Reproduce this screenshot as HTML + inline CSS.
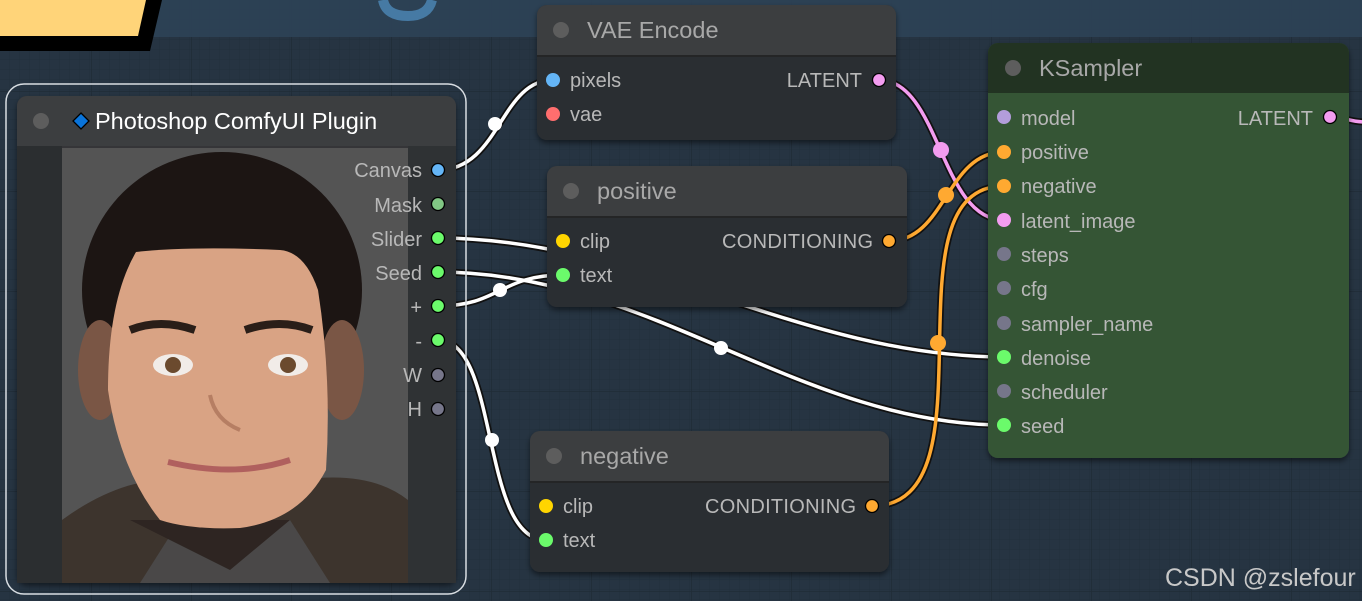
<!DOCTYPE html>
<html><head><meta charset="utf-8"><style>
html,body{margin:0;padding:0;width:1362px;height:601px;overflow:hidden;background:#253340}
svg{display:block}
text{font-family:"Liberation Sans",Arial,sans-serif}
</style></head><body>
<svg width="1362" height="601" viewBox="0 0 1362 601" xmlns="http://www.w3.org/2000/svg">
<defs>
<pattern id="g" width="10" height="10" patternUnits="userSpaceOnUse">
<path d="M10 0V10H0" fill="none" stroke="#21303c" stroke-width="1"/>
</pattern>
<pattern id="G" width="100" height="100" patternUnits="userSpaceOnUse" x="-8" y="-8">
<path d="M100 0V100H0" fill="none" stroke="#1f2b36" stroke-width="1.5"/>
</pattern>
<filter id="sh" x="-10%" y="-10%" width="120%" height="130%"><feDropShadow dx="0" dy="3" stdDeviation="3" flood-color="#000" flood-opacity="0.5"/></filter>
<clipPath id="img"><rect x="62" y="148" width="346" height="435"/></clipPath>
</defs>
<rect width="1362" height="601" fill="#263442"/>
<rect width="1362" height="601" fill="url(#g)"/>
<rect width="1362" height="601" fill="url(#G)"/>
<rect width="1362" height="37" fill="#2d4257" opacity="0.9"/>
<polygon points="0,0 162,0 150,51 0,51" fill="#000"/>
<polygon points="0,0 146,0 138,36 0,36" fill="#ffd479"/>
<path d="M383,0 Q386,16 408,16 Q428,16 432,0" fill="none" stroke="#467aa4" stroke-width="10"/>

<g fill="none" stroke-linecap="round">
<g stroke="#111" stroke-width="7">
<path d="M438,170 C500,170 500,80 553,80"/>
<path d="M438,238 C640,238 800,357 1004,357"/>
<path d="M438,272 C650,272 800,425 1004,425"/>
<path d="M438,306 C500,306 500,275 563,275"/>
<path d="M438,340 C500,340 480,540 546,540"/>
<path d="M879,80 C940,80 940,220 1004,220"/>
<path d="M889,241 C946,241 946,152 1004,152"/>
<path d="M872,506 C1000,506 880,186 1004,186"/>
<path d="M1330,117 C1345,117 1350,122 1365,122"/>
</g>
<g stroke="#fff" stroke-width="3.5">
<path d="M438,170 C500,170 500,80 553,80"/>
<path d="M438,238 C640,238 800,357 1004,357"/>
<path d="M438,272 C650,272 800,425 1004,425"/>
<path d="M438,306 C500,306 500,275 563,275"/>
<path d="M438,340 C500,340 480,540 546,540"/>
</g>
<path d="M879,80 C940,80 940,220 1004,220" stroke="#f39cf0" stroke-width="3.5"/>
<path d="M889,241 C946,241 946,152 1004,152" stroke="#ffa931" stroke-width="3.5"/>
<path d="M872,506 C1000,506 880,186 1004,186" stroke="#ffa931" stroke-width="3.5"/>
<path d="M1330,117 C1345,117 1350,122 1365,122" stroke="#f39cf0" stroke-width="3.5"/>
</g>
<g>
<circle cx="495" cy="124" r="7" fill="#fff"/>
<circle cx="500" cy="290" r="7" fill="#fff"/>
<circle cx="721" cy="348" r="7" fill="#fff"/>
<circle cx="492" cy="440" r="7" fill="#fff"/>
<circle cx="941" cy="150" r="8" fill="#f39cf0"/>
<circle cx="946" cy="195" r="8" fill="#ffa931"/>
<circle cx="938" cy="343" r="8" fill="#ffa931"/>
</g>

<rect x="6" y="84" width="460" height="510" rx="18" fill="none" stroke="#d8dde2" stroke-width="1.5"/>
<g filter="url(#sh)">
<rect x="17" y="96" width="439" height="487" rx="10" fill="#353637"/>
</g>
<path d="M17,106 a10,10 0 0 1 10,-10 h419 a10,10 0 0 1 10,10 v40 h-439z" fill="#3c3e40"/>
<rect x="17" y="146" width="45" height="437" fill="#2b2e30"/>
<rect x="408" y="146" width="48" height="437" fill="#2f3234"/>
<circle cx="41" cy="121" r="8" fill="#5d5d5d"/>
<polygon points="81,113 89,121 81,129 73,121" fill="#0a74da" stroke="#000" stroke-width="1.3"/>
<text x="95" y="129" font-size="23.5" fill="#fff">Photoshop ComfyUI Plugin</text>
<g clip-path="url(#img)">
<rect x="62" y="148" width="346" height="435" fill="#545454"/>
<path d="M62,520 Q130,470 200,480 L300,480 Q370,470 408,500 L408,583 L62,583z" fill="#3d342d"/>
<path d="M180,520 L290,520 L330,583 L140,583z" fill="#4a4848"/>
<path d="M130,520 L290,520 L230,570z" fill="#2e2522"/>
<ellipse cx="222" cy="290" rx="140" ry="138" fill="#1c1513"/>
<ellipse cx="100" cy="370" rx="22" ry="50" fill="#7a5645"/>
<ellipse cx="342" cy="370" rx="22" ry="50" fill="#7a5645"/>
<path d="M136,252 Q190,246 280,250 Q305,252 318,290 Q332,380 326,470 Q300,520 240,528 Q190,530 160,520 Q120,470 108,390 Q108,300 136,252z" fill="#d9a384"/>
<path d="M130,330 Q160,318 195,330" stroke="#2a1e18" stroke-width="8" fill="none"/>
<path d="M245,330 Q280,318 312,330" stroke="#2a1e18" stroke-width="8" fill="none"/>
<ellipse cx="173" cy="365" rx="20" ry="11" fill="#f1ece8"/>
<ellipse cx="288" cy="365" rx="20" ry="11" fill="#f1ece8"/>
<circle cx="173" cy="365" r="8" fill="#6b4a2e"/>
<circle cx="288" cy="365" r="8" fill="#6b4a2e"/>
<path d="M210,395 Q215,420 240,430" stroke="#b67e63" stroke-width="4" fill="none"/>
<path d="M168,462 Q235,478 290,460" stroke="#b0605e" stroke-width="6" fill="none"/>
</g>
<g font-size="20" fill="#b8b8b8" text-anchor="end">
<text x="422" y="177">Canvas</text>
<text x="422" y="212">Mask</text>
<text x="422" y="246">Slider</text>
<text x="422" y="280">Seed</text>
<text x="422" y="314">+</text>
<text x="422" y="348">-</text>
<text x="422" y="382">W</text>
<text x="422" y="416">H</text>
</g>
<g stroke="#000" stroke-width="1.3">
<circle cx="438" cy="170" r="6.5" fill="#64b5f6"/>
<circle cx="438" cy="204" r="6.5" fill="#81c784"/>
<circle cx="438" cy="238" r="6.5" fill="#6bfa6b"/>
<circle cx="438" cy="272" r="6.5" fill="#6bfa6b"/>
<circle cx="438" cy="306" r="6.5" fill="#6bfa6b"/>
<circle cx="438" cy="340" r="6.5" fill="#6bfa6b"/>
<circle cx="438" cy="375" r="6.5" fill="#76768a"/>
<circle cx="438" cy="409" r="6.5" fill="#76768a"/>
</g>

<g filter="url(#sh)"><rect x="537" y="5" width="359" height="135" rx="10" fill="#2b2e31"/></g>
<path d="M537,15 a10,10 0 0 1 10,-10 h339 a10,10 0 0 1 10,10 v40 h-359z" fill="#3c3e40"/>
<line x1="537" y1="56" x2="896" y2="56" stroke="#222" stroke-width="1.5"/>
<circle cx="561" cy="30" r="8" fill="#5d5d5d"/>
<text x="587" y="38" font-size="23.5" fill="#a8a8a8">VAE Encode</text>
<circle cx="553" cy="80" r="7" fill="#64b5f6"/>
<circle cx="553" cy="114" r="7" fill="#ff6e6e"/>
<text x="570" y="87" font-size="20" fill="#b8b8b8">pixels</text>
<text x="570" y="121" font-size="20" fill="#b8b8b8">vae</text>
<text x="862" y="87" font-size="20" fill="#b8b8b8" text-anchor="end">LATENT</text>
<circle cx="879" cy="80" r="6.5" fill="#f39cf0" stroke="#000" stroke-width="1.3"/>

<g filter="url(#sh)"><rect x="547" y="166" width="360" height="141" rx="10" fill="#2b2e31"/></g>
<path d="M547,176 a10,10 0 0 1 10,-10 h340 a10,10 0 0 1 10,10 v40 h-360z" fill="#3c3e40"/>
<line x1="547" y1="217" x2="907" y2="217" stroke="#222" stroke-width="1.5"/>
<circle cx="571" cy="191" r="8" fill="#5d5d5d"/>
<text x="597" y="199" font-size="23.5" fill="#a8a8a8">positive</text>
<circle cx="563" cy="241" r="7" fill="#ffd500"/>
<circle cx="563" cy="275" r="7" fill="#6bfa6b"/>
<text x="580" y="248" font-size="20" fill="#b8b8b8">clip</text>
<text x="580" y="282" font-size="20" fill="#b8b8b8">text</text>
<text x="873" y="248" font-size="20" fill="#b8b8b8" text-anchor="end" textLength="151">CONDITIONING</text>
<circle cx="889" cy="241" r="6.5" fill="#ffa931" stroke="#000" stroke-width="1.3"/>

<g filter="url(#sh)"><rect x="530" y="431" width="359" height="141" rx="10" fill="#2b2e31"/></g>
<path d="M530,441 a10,10 0 0 1 10,-10 h339 a10,10 0 0 1 10,10 v40 h-359z" fill="#3c3e40"/>
<line x1="530" y1="482" x2="889" y2="482" stroke="#222" stroke-width="1.5"/>
<circle cx="554" cy="456" r="8" fill="#5d5d5d"/>
<text x="580" y="464" font-size="23.5" fill="#a8a8a8">negative</text>
<circle cx="546" cy="506" r="7" fill="#ffd500"/>
<circle cx="546" cy="540" r="7" fill="#6bfa6b"/>
<text x="563" y="513" font-size="20" fill="#b8b8b8">clip</text>
<text x="563" y="547" font-size="20" fill="#b8b8b8">text</text>
<text x="856" y="513" font-size="20" fill="#b8b8b8" text-anchor="end" textLength="151">CONDITIONING</text>
<circle cx="872" cy="506" r="6.5" fill="#ffa931" stroke="#000" stroke-width="1.3"/>

<g filter="url(#sh)"><rect x="988" y="43" width="361" height="415" rx="10" fill="#355535"/></g>
<path d="M988,53 a10,10 0 0 1 10,-10 h341 a10,10 0 0 1 10,10 v40 h-361z" fill="#223322"/>
<circle cx="1013" cy="68" r="8" fill="#5d5d5d"/>
<text x="1039" y="76" font-size="23.5" fill="#a8a8a8">KSampler</text>
<g font-size="20" fill="#b8b8b8">
<text x="1021" y="125">model</text>
<text x="1021" y="159">positive</text>
<text x="1021" y="193">negative</text>
<text x="1021" y="228">latent_image</text>
<text x="1021" y="262">steps</text>
<text x="1021" y="296">cfg</text>
<text x="1021" y="331">sampler_name</text>
<text x="1021" y="365">denoise</text>
<text x="1021" y="399">scheduler</text>
<text x="1021" y="433">seed</text>
<text x="1313" y="125" text-anchor="end">LATENT</text>
</g>
<circle cx="1004" cy="117" r="7" fill="#b39ddb"/>
<circle cx="1004" cy="152" r="7" fill="#ffa931"/>
<circle cx="1004" cy="186" r="7" fill="#ffa931"/>
<circle cx="1004" cy="220" r="7" fill="#f39cf0"/>
<circle cx="1004" cy="254" r="7" fill="#76768a"/>
<circle cx="1004" cy="288" r="7" fill="#76768a"/>
<circle cx="1004" cy="323" r="7" fill="#76768a"/>
<circle cx="1004" cy="357" r="7" fill="#6bfa6b"/>
<circle cx="1004" cy="391" r="7" fill="#76768a"/>
<circle cx="1004" cy="425" r="7" fill="#6bfa6b"/>
<circle cx="1330" cy="117" r="6.5" fill="#f39cf0" stroke="#000" stroke-width="1.3"/>

<text x="1165" y="586" font-size="25" fill="#c8c8c8">CSDN @zslefour</text>
</svg>
</body></html>
